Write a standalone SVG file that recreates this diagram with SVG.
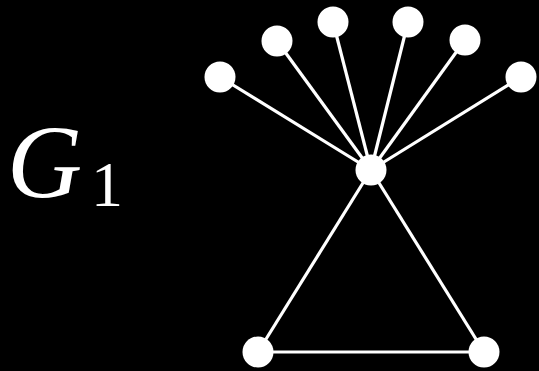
<svg xmlns="http://www.w3.org/2000/svg" width="539" height="371" viewBox="0 0 539 371">
<style>
.e{stroke:#fff;stroke-width:3.2;fill:none}
.n{fill:#fff}
.t{fill:#fff;font-family:"Liberation Serif","DejaVu Serif",serif}
</style>
<rect width="539" height="371" fill="#000"/>
<g id="label"><text class="t" x="7" y="197" font-size="104" font-style="italic">G</text><text class="t" x="91" y="206" font-size="64">1</text></g>
<g id="edges">
<line class="e" x1="371" y1="170" x2="220" y2="77"/>
<line class="e" x1="371" y1="170" x2="277" y2="41"/>
<line class="e" x1="371" y1="170" x2="333" y2="22"/>
<line class="e" x1="371" y1="170" x2="408" y2="22"/>
<line class="e" x1="371" y1="170" x2="465" y2="40"/>
<line class="e" x1="371" y1="170" x2="521" y2="77"/>
<line class="e" x1="371" y1="170" x2="258" y2="352"/>
<line class="e" x1="371" y1="170" x2="484" y2="352"/>
<line class="e" x1="258" y1="352" x2="484" y2="352"/>
</g>
<g id="hub"><circle class="n" cx="371" cy="170" r="15.5"/></g>
<g id="leaf1"><circle class="n" cx="220" cy="77" r="15.5"/></g>
<g id="leaf2"><circle class="n" cx="277" cy="41" r="15.5"/></g>
<g id="leaf3"><circle class="n" cx="333" cy="22" r="15.5"/></g>
<g id="leaf4"><circle class="n" cx="408" cy="22" r="15.5"/></g>
<g id="leaf5"><circle class="n" cx="465" cy="40" r="15.5"/></g>
<g id="leaf6"><circle class="n" cx="521" cy="77" r="15.5"/></g>
<g id="bl"><circle class="n" cx="258" cy="352" r="15.5"/></g>
<g id="br"><circle class="n" cx="484" cy="352" r="15.5"/></g>
</svg>
